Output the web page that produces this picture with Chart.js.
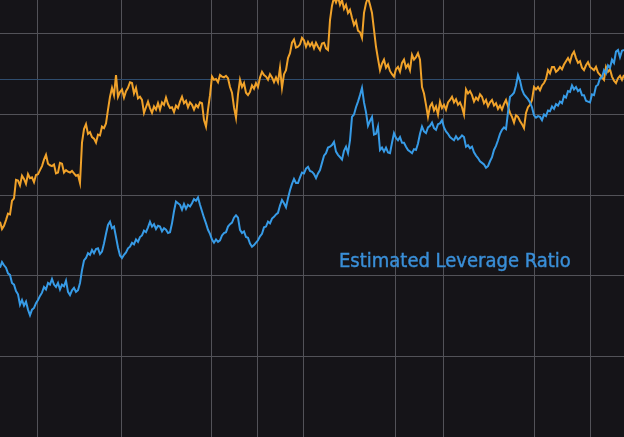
<!DOCTYPE html>
<html>
<head>
<meta charset="utf-8">
<script src="https://cdn.jsdelivr.net/npm/chart.js@4.4.1/dist/chart.umd.min.js"></script>
<style>
  html, body { margin: 0; padding: 0; background: #151418; }
  #wrap { position: relative; width: 624px; height: 437px; overflow: hidden; background: #151418; }
  #label {
    position: absolute; left: 339px; top: 250px;
    font-family: "DejaVu Sans Condensed", "DejaVu Sans", sans-serif;
    font-size: 20px; line-height: 20px; color: #3a8fd8; white-space: nowrap;
    -webkit-text-stroke: 0.4px #3a8fd8;
  }
</style>
</head>
<body>
<div id="wrap">
  <canvas id="c" width="624" height="437"></canvas>
  <div id="label">Estimated Leverage Ratio</div>
</div>
<script>
// trading-day index shared by both series
const days = [
  0,2,4,6,8,10,12,14,16,18, 20,22,24,26,28,30,32,34,36,38,
  40,42,44,46,48,50,52,54,56,58, 60,62,64,66,68,70,72,74,76,78,
  80,82,84,86,88,90,92,94,96,98, 100,102,104,106,108,110,112,114,116,118,
  120,122,124,126,128,130,132,134,136,138, 140,142,144,146,148,150,152,154,156,158,
  160,162,164,166,168,170,172,174,176,178, 180,182,184,186,188,190,192,194,196,198,
  200,202,204,206,208,210,212,214,216,218, 220,222,224,226,228,230,232,234,236,238,
  240,242,244,246,248,250,252,254,256,258, 260,262,264,266,268,270,272,274,276,278,
  280,282,284,286,288,290,292,294,296,298, 300,302,304,306,308,310,312,314,316,318,
  320,322,324,326,328,330,332,334,336,338, 340,342,344,346,348,350,352,354,356,358,
  360,362,364,366,368,370,372,374,376,378, 380,382,384,386,388,390,392,394,396,398,
  400,402,404,406,408,410,412,414,416,418, 420,422,424,426,428,430,432,434,436,438,
  440,442,444,446,448,450,452,454,456,458, 460,462,464,466,468,470,472,474,476,478,
  480,482,484,486,488,490,492,494,496,498, 500,502,504,506,508,510,512,514,516,518,
  520,522,524,526,528,530,532,534,536,538, 540,542,544,546,548,550,552,554,556,558,
  560,562,564,566,568,570,572,574,576,578, 580,582,584,586,588,590,592,594,596,598,
  600,602,604,606,608,610,612,614,616,618, 620,622,624
];

// orange series
const orangeValues = [
  26.7,25.8,26.2,26.9,27.7,27.6,29.3,29.6,31.9,31.8,
  31.2,32.4,32.0,31.4,32.6,32.1,32.2,31.6,32.5,32.6,
  33.1,33.6,34.4,35.0,33.9,33.7,33.6,33.8,32.7,32.8,
  34.0,33.9,32.8,33.1,32.9,32.8,33.0,32.7,32.4,32.5,
  31.5,36.5,38.2,38.8,37.6,37.8,37.2,37.0,36.5,37.5,
  37.4,38.5,38.3,38.9,40.6,42.2,43.3,42.4,44.9,42.2,
  42.8,43.1,42.1,42.9,43.3,44.0,43.9,42.6,43.3,42.0,
  42.2,41.8,40.2,40.9,41.6,40.8,40.2,41.0,40.6,41.4,
  40.6,41.5,41.2,42.1,41.3,40.8,40.9,40.3,41.1,40.8,
  41.6,42.2,41.4,41.7,40.9,41.5,41.2,40.6,41.2,40.9,
  41.5,41.4,39.3,38.5,40.6,42.4,44.7,44.3,44.4,44.0,
  44.9,44.7,44.6,44.8,44.5,43.4,42.7,40.9,39.6,42.5,
  44.3,43.4,43.9,42.7,42.4,42.8,43.6,43.2,43.9,43.4,
  44.6,45.3,44.9,44.7,44.3,45.0,44.6,44.0,44.6,44.0,
  45.8,43.3,45.0,45.5,47.0,47.6,48.9,49.3,48.3,48.4,
  48.7,49.5,49.2,48.4,49.0,48.5,48.9,48.2,48.9,48.4,
  48.0,48.8,48.9,48.2,48.0,51.7,53.5,54.5,53.9,54.6,
  53.6,54.2,53.1,53.6,52.6,53.0,52.0,51.1,51.6,50.4,
  50.2,49.5,52.6,53.8,54.5,53.6,52.6,50.5,48.4,46.9,
  45.5,46.3,46.8,45.8,46.2,45.4,45.0,44.7,45.6,45.9,
  45.3,46.4,46.8,45.8,46.2,45.5,47.4,46.8,47.1,47.6,
  46.8,43.4,42.6,41.2,39.7,41.0,41.4,40.5,41.0,40.0,
  41.6,40.8,41.2,40.6,41.5,41.8,42.2,41.5,41.9,41.2,
  41.5,40.9,40.0,43.1,42.6,42.9,42.4,41.6,42.1,41.8,
  42.5,42.2,41.4,41.8,41.0,41.5,41.8,41.1,41.4,40.7,
  41.1,40.6,41.3,41.8,41.0,40.2,39.7,39.0,39.9,39.7,
  39.2,38.8,38.3,40.2,40.9,41.2,41.8,43.4,43.1,43.4,
  43.0,43.6,43.9,44.4,45.5,45.1,45.9,45.9,45.3,45.5,
  45.9,45.6,46.2,46.6,47.0,46.5,47.4,47.8,47.0,46.4,
  46.6,45.8,45.5,46.1,46.5,45.9,45.7,45.5,45.9,45.2,
  44.9,44.6,44.3,45.9,45.3,45.6,44.7,44.2,43.9,44.5,
  44.8,44.3,44.9
];

// blue series: Estimated Leverage Ratio
const leverageValues = [
  21.0,21.7,21.3,21.0,20.3,20.1,19.1,18.9,18.1,17.7,
  16.4,17.0,16.3,16.8,15.8,15.1,15.8,16.0,16.6,17.0,
  17.5,17.9,18.6,18.3,19.1,18.9,19.6,18.9,18.6,19.1,
  18.3,18.9,18.7,19.4,18.0,17.6,18.2,18.5,18.0,18.2,
  19.1,20.7,21.9,22.2,22.8,22.6,23.2,22.8,23.3,23.4,
  22.7,23.0,24.0,25.2,26.3,26.7,25.9,26.1,24.8,23.5,
  22.5,22.2,22.6,22.9,23.4,23.6,24.1,23.9,24.5,24.2,
  24.8,25.0,25.6,25.4,26.0,26.7,26.1,26.4,25.8,26.2,
  26.1,25.5,25.9,25.7,25.3,25.4,26.5,28.0,29.2,29.0,
  28.8,28.2,28.9,28.3,28.8,28.6,29.0,29.5,29.3,29.7,
  28.8,28.0,27.2,26.5,25.7,25.2,24.5,24.1,24.5,24.2,
  24.4,25.0,25.3,25.4,26.1,26.4,26.6,27.2,27.5,27.2,
  25.7,25.3,25.5,24.8,24.7,24.0,23.6,23.8,24.1,24.4,
  24.9,25.2,26.0,26.1,26.7,26.5,27.1,27.3,27.6,27.8,
  28.7,29.4,29.0,28.5,29.6,30.6,31.4,32.0,31.5,31.5,
  32.2,32.8,32.7,33.3,33.5,33.0,32.9,32.6,32.1,32.7,
  33.1,34.0,34.9,35.2,35.9,36.0,36.2,36.6,35.4,35.0,
  34.7,34.4,35.5,36.0,35.2,36.8,39.7,40.0,40.9,41.6,
  42.4,43.3,41.5,40.3,38.6,39.2,39.7,37.5,37.6,38.5,
  35.6,35.9,35.4,35.9,35.3,35.2,36.5,37.7,37.1,36.8,
  37.2,36.5,36.5,36.0,35.6,35.4,35.2,35.7,35.6,36.4,
  37.6,38.5,37.9,37.7,38.4,38.6,39.0,38.3,38.1,38.8,
  38.9,39.3,38.4,37.9,37.6,37.2,37.0,36.8,37.3,36.9,
  37.1,37.4,37.2,36.0,36.2,35.8,36.0,35.3,34.9,34.6,
  34.2,34.0,33.8,33.4,33.6,34.2,34.7,35.6,36.1,36.8,
  37.6,38.1,38.4,38.2,40.3,42.2,42.4,42.7,43.6,44.9,
  44.2,43.1,42.5,42.2,41.9,41.5,40.9,39.9,39.6,39.8,
  39.7,39.3,40.0,39.8,40.5,40.4,41.0,40.7,41.3,41.1,
  41.6,41.4,42.3,42.1,42.9,42.8,43.6,43.1,43.4,42.9,
  43.1,42.4,42.4,41.7,41.6,41.5,42.5,42.4,43.5,43.7,
  44.5,44.6,45.5,45.1,46.1,45.8,46.8,46.4,47.8,48.0,
  47.1,47.9,48.0
];

// vertical grid positions (period boundaries) and horizontal grid values
const gridDays = [37,121,211,257,303,395,443,534,590];
const gridValues = [0,10,20,30,40,50];
const referenceLevel = 44.4;

function toPoints(xs, ys) { return xs.map((x, i) => ({ x: x, y: ys[i] })); }

new Chart(document.getElementById('c'), {
  type: 'line',
  data: {
    datasets: [
      { label: 'Orange', data: toPoints(days, orangeValues), borderColor: '#f0a22a', borderWidth: 2, pointRadius: 0, tension: 0, order: 2 },
      { label: 'Estimated Leverage Ratio', data: toPoints(days, leverageValues), borderColor: '#379be6', borderWidth: 2, pointRadius: 0, tension: 0, order: 1 }
    ]
  },
  options: {
    responsive: false,
    animation: false,
    events: [],
    layout: { padding: 0 },
    plugins: { legend: { display: false }, tooltip: { enabled: false }, title: { display: false } },
    scales: {
      x: {
        type: 'linear', min: 0, max: 624,
        border: { display: false },
        ticks: { display: false },
        grid: { color: '#525258', lineWidth: 1, drawTicks: false },
        afterBuildTicks: (s) => { s.ticks = gridDays.map(v => ({ value: v })); }
      },
      y: {
        type: 'linear', min: 0, max: 54.2,
        border: { display: false },
        ticks: { display: false },
        grid: {
          drawTicks: false, lineWidth: 1,
          color: (ctx) => (ctx.tick && ctx.tick.value === referenceLevel) ? '#2f4d6e' : '#525258'
        },
        afterBuildTicks: (s) => { s.ticks = gridValues.concat([referenceLevel]).map(v => ({ value: v })); }
      }
    }
  }
});
</script>
</body>
</html>
